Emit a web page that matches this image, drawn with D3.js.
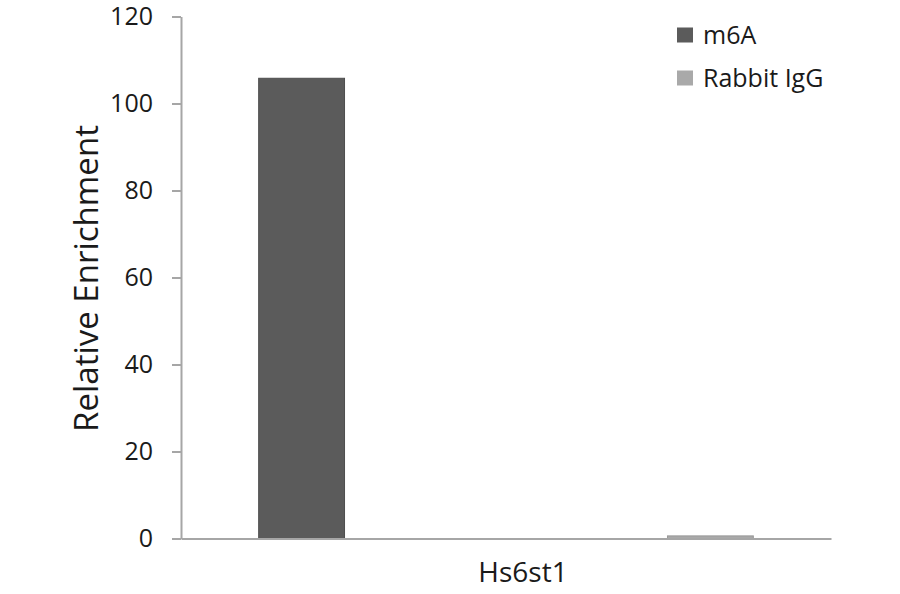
<!DOCTYPE html>
<html><head><meta charset="utf-8">
<script src="https://cdn.jsdelivr.net/npm/d3@7"></script>
<style>body{margin:0;background:#fff;} text{font-family:"Open Sans",sans-serif;fill:#1a1a1a;}</style>
</head><body><svg id="c" width="900" height="594"></svg>
<script>
const categories = ["Hs6st1"];
const seriesNames = ["m6A", "Rabbit IgG"];
const m6A = [105.8];
const rabbitIgG = [0.6];
const yTicks = [0, 20, 40, 60, 80, 100, 120];
const colors = ["#5b5b5b", "#a9a9a9"];

(function () {
const svg = d3.select("#c");
const mLeft = 181, mRight = 831, mTop = 16.5, mBottom = 538.5;

const y = d3.scaleLinear().domain([0, 120]).range([mBottom, mTop]);
const x0 = d3.scaleBand().domain(categories).range([mLeft, mRight]).padding(0);
const x1 = d3.scaleBand().domain(seriesNames).range([0, x0.bandwidth()]).paddingInner(0.79).paddingOuter(0.19);

const data = categories.map((c, i) => ({cat: c, vals: [m6A[i], rabbitIgG[i]]}));

const g = svg.append("g");
data.forEach(d => {
  d.vals.forEach((v, j) => {
    g.append("rect")
      .attr("x", x0(d.cat) + x1(seriesNames[j]))
      .attr("width", x1.bandwidth())
      .attr("y", y(v))
      .attr("height", y(0) - y(v))
      .attr("fill", colors[j])
      .attr("stroke", j === 0 ? "#4e4e4e" : "#999")
      .attr("stroke-width", 1);
  });
});

const yAxis = svg.append("g").attr("transform", `translate(${mLeft},0)`)
  .call(d3.axisLeft(y).tickValues(yTicks).tickSize(9).tickPadding(19).tickSizeOuter(0));
yAxis.select(".domain").attr("stroke", "#a6a6a6").attr("stroke-width", 2);
yAxis.selectAll(".tick line").attr("stroke", "#a6a6a6").attr("stroke-width", 2);
yAxis.selectAll(".tick text").style("font-size", "25px").attr("fill", "#1a1a1a");

const xAxis = svg.append("g").attr("transform", `translate(0,${mBottom})`)
  .call(d3.axisBottom(x0).tickSize(0).tickPadding(24));
xAxis.select(".domain").attr("stroke", "#a6a6a6").attr("stroke-width", 2);
xAxis.selectAll(".tick text").style("font-size", "28px").attr("fill", "#1a1a1a").attr("dx", 17);

svg.append("text")
  .attr("transform", `translate(98,278.5) rotate(-90)`)
  .attr("text-anchor", "middle")
  .style("font-size", "33px")
  .text("Relative Enrichment");

const lg = svg.append("g");
seriesNames.forEach((s, i) => {
  const cy = 35 + i * 43;
  lg.append("rect").attr("x", 677).attr("y", cy - 7.5).attr("width", 16).attr("height", 15).attr("fill", colors[i]);
  lg.append("text").attr("x", 703).attr("y", cy).attr("dy", "0.35em").style("font-size", "25px").text(s);
});
})();
</script></body></html>
